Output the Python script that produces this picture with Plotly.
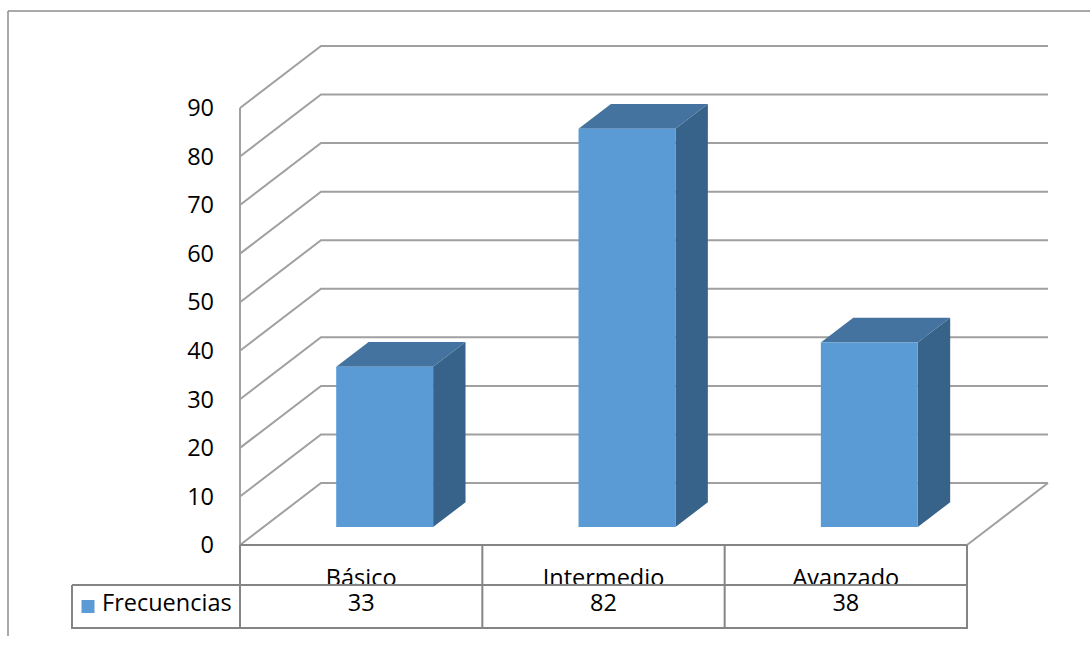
import plotly.graph_objects as go

# ---------------- data ----------------
categories = ["Básico", "Intermedio", "Avanzado"]
frecuencias = [33, 82, 38]
series_name = "Frecuencias"
y_ticks = [0, 10, 20, 30, 40, 50, 60, 70, 80, 90]

# ---------------- geometry (pixel scale of the pseudo-3D frame) ----------------
W, H = 1090, 650
X0, Y0 = 240, 545          # front-floor origin in pixels
PX_CAT = 242.33            # pixels per category
PX_UNIT = 48.56 / 10       # pixels per value unit
DEPTH_PX = (81, 62)        # back-wall offset (right, up)

xmin, xmax = -X0 / PX_CAT, (W - X0) / PX_CAT
ymin, ymax = -(H - Y0) / PX_UNIT, Y0 / PX_UNIT
Dx, Dy = DEPTH_PX[0] / PX_CAT, DEPTH_PX[1] / PX_UNIT
ncat = len(categories)
vmax = y_ticks[-1]

FRONT_DEPTH = 0.29   # fraction of depth where bar front face sits
BAR_DEPTH = 0.40     # fraction of depth taken by bar
BAR_W = 0.40         # bar width in category units

GRID_C = "#a0a0a0"
TABLE_C = "#858585"
FRONT_C = "#5b9bd5"
TOP_C = "#44739f"
SIDE_C = "#37628a"
FONT = "Open Sans"
FS = 23.5

fig = go.Figure()

# ---------------- walls / gridlines ----------------
gx, gy = [], []
for v in y_ticks:
    gx += [0, Dx, ncat + Dx, None]
    gy += [v, v + Dy, v + Dy, None]
# front vertical axis line
gx += [0, 0, None]
gy += [0, vmax, None]
# floor right edge
gx += [ncat, ncat + Dx, None]
gy += [0, Dy, None]
fig.add_trace(go.Scatter(x=gx, y=gy, mode="lines", line=dict(color=GRID_C, width=2),
                         hoverinfo="skip", showlegend=False))

# ---------------- bars ----------------
fx0, fy0 = FRONT_DEPTH * Dx, FRONT_DEPTH * Dy
bdx, bdy = BAR_DEPTH * Dx, BAR_DEPTH * Dy
for i, (c, v) in enumerate(zip(categories, frecuencias)):
    xl = i + 0.5 - BAR_W / 2 + fx0
    xr = i + 0.5 + BAR_W / 2 + fx0
    yb = fy0
    yt = v + fy0
    # side face
    fig.add_trace(go.Scatter(x=[xr, xr + bdx, xr + bdx, xr, xr],
                             y=[yb, yb + bdy, yt + bdy, yt, yb],
                             fill="toself", fillcolor=SIDE_C, mode="lines",
                             line=dict(width=0, color=SIDE_C), hoverinfo="skip", showlegend=False))
    # top face
    fig.add_trace(go.Scatter(x=[xl, xr, xr + bdx, xl + bdx, xl],
                             y=[yt, yt, yt + bdy, yt + bdy, yt],
                             fill="toself", fillcolor=TOP_C, mode="lines",
                             line=dict(width=0, color=TOP_C), hoverinfo="skip", showlegend=False))
    # front face
    fig.add_trace(go.Scatter(x=[xl, xr, xr, xl, xl],
                             y=[yb, yb, yt, yt, yb],
                             fill="toself", fillcolor=FRONT_C, mode="lines",
                             line=dict(width=0, color=FRONT_C), name=c,
                             hovertemplate=c + ": " + str(v) + "<extra></extra>", showlegend=False))

# ---------------- data table ----------------
row1 = -40 / PX_UNIT
row2 = -83 / PX_UNIT
leg_left = -168 / PX_CAT

# category labels (header row)
fig.add_trace(go.Scatter(x=[i + 0.5 for i in range(ncat)], y=[-35 / PX_UNIT] * ncat,
                         text=categories, mode="text", textposition="middle center",
                         textfont=dict(family=FONT, size=FS, color="black"),
                         hoverinfo="skip", showlegend=False))
# value row (white cell hides label overflow)
fig.add_trace(go.Scatter(x=[leg_left, ncat, ncat, leg_left, leg_left],
                         y=[row1, row1, row2, row2, row1],
                         fill="toself", fillcolor="white", mode="lines",
                         line=dict(color=TABLE_C, width=2), hoverinfo="skip", showlegend=False))
tx, ty = [], []
for k in range(ncat + 1):
    tx += [k, k, None]
    ty += [0, row2, None]
tx += [0, ncat, None]
ty += [0, 0, None]
fig.add_trace(go.Scatter(x=tx, y=ty, mode="lines", line=dict(color=TABLE_C, width=2),
                         hoverinfo="skip", showlegend=False))
# values
fig.add_trace(go.Scatter(x=[i + 0.5 for i in range(ncat)], y=[(row1 + row2) / 2 + 0.3] * ncat,
                         text=[str(v) for v in frecuencias], mode="text",
                         textposition="middle center",
                         textfont=dict(family=FONT, size=FS, color="black"),
                         hoverinfo="skip", showlegend=False))
# legend key
fig.add_trace(go.Scatter(x=[-(X0 - 88) / PX_CAT], y=[(row1 + row2) / 2],
                         mode="markers", marker=dict(symbol="square", size=13, color=FRONT_C),
                         hoverinfo="skip", showlegend=False))
fig.add_trace(go.Scatter(x=[-(X0 - 102) / PX_CAT], y=[(row1 + row2) / 2 + 0.3],
                         text=[series_name], mode="text", textposition="middle right",
                         textfont=dict(family=FONT, size=FS, color="black"),
                         hoverinfo="skip", showlegend=False))

# ---------------- layout ----------------
fig.update_layout(
    width=W, height=H,
    margin=dict(l=0, r=0, t=0, b=0),
    paper_bgcolor="white", plot_bgcolor="white",
    showlegend=False,
    xaxis=dict(range=[xmin, xmax], visible=False, domain=[0, 1], fixedrange=True),
    yaxis=dict(range=[ymin, ymax], domain=[0, 1], anchor="free", position=X0 / W,
               tickvals=y_ticks, ticktext=[str(t) for t in y_ticks],
               showgrid=False, zeroline=False, showline=False, ticks="",
               ticklabelstandoff=26, automargin=False, fixedrange=True,
               tickfont=dict(family=FONT, size=FS, color="black")),
    shapes=[
        dict(type="line", xref="paper", yref="paper", x0=8 / W, x1=1, y0=1 - 11 / H, y1=1 - 11 / H,
             line=dict(color="#8c8c8c", width=1.5)),
        dict(type="line", xref="paper", yref="paper", x0=8 / W, x1=8 / W, y0=1 - 11 / H, y1=1 - 636 / H,
             line=dict(color="#8c8c8c", width=1.5)),
    ],
)

fig.write_html("out.html")
